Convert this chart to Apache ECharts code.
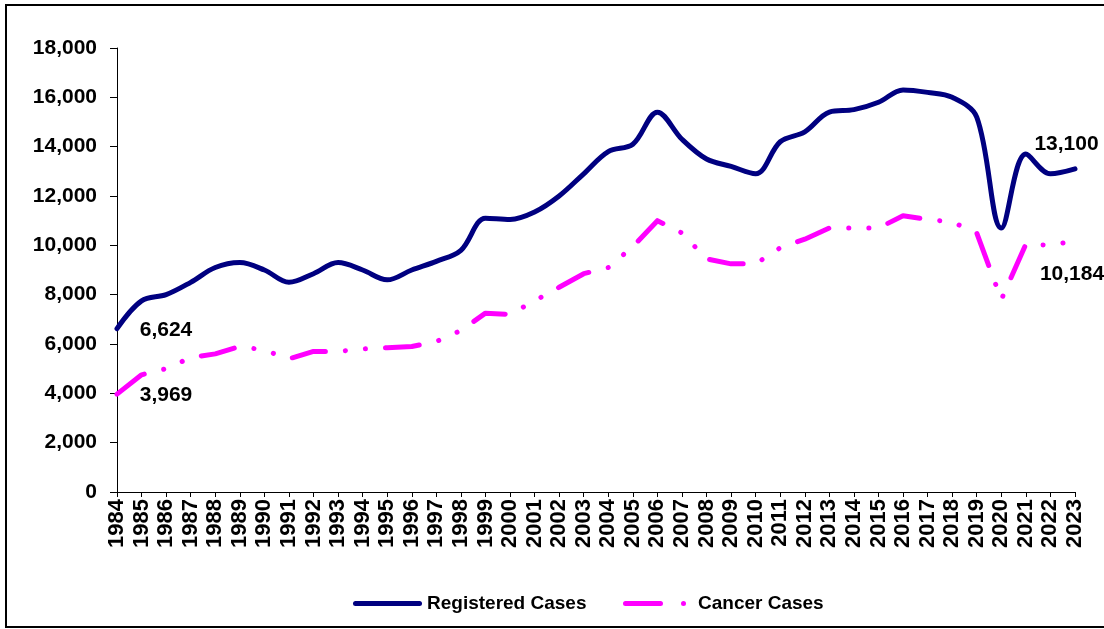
<!DOCTYPE html>
<html>
<head>
<meta charset="utf-8">
<script src="https://cdn.jsdelivr.net/npm/echarts@6/dist/echarts.min.js"></script>
<style>
html,body{margin:0;padding:0;background:#fff;}
#chart{width:1104px;height:629px;}
</style>
</head>
<body>
<div id="chart"></div>
<script>
const years = ['1984','1985','1986','1987','1988','1989','1990','1991','1992','1993','1994','1995','1996','1997','1998','1999','2000','2001','2002','2003','2004','2005','2006','2007','2008','2009','2010','2011','2012','2013','2014','2015','2016','2017','2018','2019','2020','2021','2022','2023'];
const registered = [6624,7750,8000,8500,9100,9300,9000,8500,8850,9300,9000,8600,9000,9350,9800,11100,11050,11350,12000,12900,13800,14100,15400,14300,13500,13200,12900,14200,14600,15400,15500,15800,16300,16200,16000,15200,10700,13700,12900,13100];
const cancer = [3969,4750,5000,5450,5600,5900,5750,5400,5700,5700,5800,5850,5900,6100,6550,7250,7200,7750,8300,8850,9100,9950,11000,10500,9450,9250,9250,9900,10250,10700,10700,10700,11200,11050,10950,10500,7800,10050,10000,10184];
const yTicks = [0,2000,4000,6000,8000,10000,12000,14000,16000,18000];

const FONT = 'Arial, "Liberation Sans", sans-serif';
const fmt = v => v.toLocaleString('en-US');
const last = years.length - 1;
const labelStyle = {show:true, position:'inside', formatter:p => fmt(p.value), fontFamily:FONT, fontSize:21, fontWeight:'bold', color:'#000'};

function endLabels(values, offFirst, offLast){
  return {
    symbol:'circle', symbolSize:1, silent:true,
    itemStyle:{color:'rgba(0,0,0,0)'},
    label:labelStyle,
    data:[
      {coord:[0, values[0]], value:values[0], label:{offset:offFirst}},
      {coord:[last, values[last]], value:values[last], label:{offset:offLast}}
    ]
  };
}

const chart = echarts.init(document.getElementById('chart'));
chart.setOption({
  animation:false,
  backgroundColor:'#fff',
  graphic:[{type:'rect', shape:{x:6,y:5,width:1110,height:622}, style:{fill:'none', stroke:'#000', lineWidth:2}, silent:true}],
  grid:{left:117, right:29, top:48, bottom:137},
  legend:[
    {data:['Registered Cases'], left:353, top:594, padding:0, itemWidth:69, itemHeight:5,
     icon:'path://M2.5,0H66.5A2.5,2.5 0 0 1 66.5,5H2.5A2.5,2.5 0 0 1 2.5,0Z',
     textStyle:{fontFamily:FONT, fontSize:19, fontWeight:'bold', color:'#000'}},
    {data:['Cancer Cases'], left:623, top:594, padding:0, itemWidth:63, itemHeight:5,
     icon:'path://M2.5,0H37.5A2.5,2.5 0 0 1 37.5,5H2.5A2.5,2.5 0 0 1 2.5,0Z M60.5,0A2.5,2.5 0 1 1 60.5,5A2.5,2.5 0 1 1 60.5,0Z',
     formatter:'{a|{name}}',
     textStyle:{fontFamily:FONT, fontSize:19, fontWeight:'bold', color:'#000',
       rich:{a:{fontFamily:FONT, fontSize:19, fontWeight:'bold', color:'#000', padding:[0,0,0,7]}}}}
  ],
  xAxis:{
    type:'category', data:years, boundaryGap:false,
    axisLine:{lineStyle:{color:'#000', width:1}},
    axisTick:{show:true, length:5, lineStyle:{color:'#000'}, interval:0},
    axisLabel:{interval:0, rotate:90, margin:7, fontFamily:FONT, fontSize:22, fontWeight:'bold', color:'#000'},
    splitLine:{show:false}
  },
  yAxis:{
    type:'value', min:0, max:18000, interval:2000,
    axisLine:{show:true, lineStyle:{color:'#000', width:1}},
    axisTick:{show:true, length:7, lineStyle:{color:'#000'}},
    axisLabel:{margin:20, fontFamily:FONT, fontSize:21, fontWeight:'bold', color:'#000',
      formatter: v => yTicks.includes(v) ? fmt(v) : ''},
    splitLine:{show:false}
  },
  series:[
    {name:'Registered Cases', type:'line', data:registered, smooth:0.35, symbol:'none',
     lineStyle:{color:'#000080', width:5, cap:'round', join:'round'},
     itemStyle:{color:'#000080'},
     markPoint:endLabels(registered, [49,1.5], [-8.5,-24.5])},
    {name:'Cancer Cases', type:'line', data:cancer, smooth:false, symbol:'none',
     lineStyle:{color:'#FF00FF', width:5, type:[34,20,0.1,20,0.1,20], cap:'round', join:'round'},
     itemStyle:{color:'#FF00FF'},
     markPoint:endLabels(cancer, [49,1.5], [-3,33.5])}
  ]
});
</script>
</body>
</html>
